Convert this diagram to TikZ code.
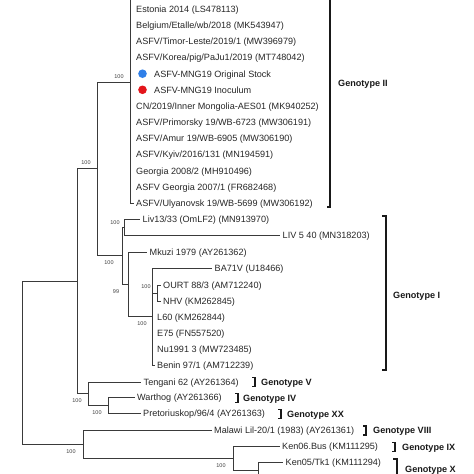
\documentclass[tikz,border=0pt]{standalone}
\usepackage{fontspec}
\setmainfont{Liberation Sans}
\definecolor{treegray}{HTML}{3A3A3A}
\definecolor{dotblue}{HTML}{2F7FE8}
\definecolor{dotred}{HTML}{E3151B}
\tikzset{
  branch/.style={draw=treegray, line width=0.8pt},
  leaf/.style={anchor=west, inner xsep=2.5pt, inner ysep=0pt, text height=6.6pt, text depth=0pt,
    font=\fontsize{9.1}{10}\selectfont, text=black!85},
  boot/.style={inner sep=0pt, font=\fontsize{5.5}{6}\selectfont, text=black!75},
  geno/.style={anchor=west, inner sep=0pt, text height=6.6pt, text depth=0pt,
    font=\fontsize{9.1}{10}\selectfont\bfseries, text=black!90},
  bracket/.style={draw=black!90, line width=1.2pt},
}
\begin{document}
\begin{tikzpicture}[x=1pt, y=-1pt]
    \useasboundingbox (0,0) rectangle (474,474);
    \clip (0,0) rectangle (474,474);

    % Internal nodes of the tree
    \coordinate (root) at (22,362.5);
    \coordinate (n77) at (77,281);
    \coordinate (n97) at (97,168);
    \coordinate (g2) at (130,82);
    \coordinate (g2top) at (130,-39);
    \coordinate (g1) at (122,255.5);
    \coordinate (nliv) at (124,227);
    \coordinate (nmk) at (128,284.5);
    \coordinate (nc) at (152,316.5);
    \coordinate (nou) at (157,293);
    \coordinate (nt) at (88,393.5);
    \coordinate (nw) at (108,405);
    \coordinate (nk) at (83,444);
    \coordinate (nkk) at (233,458);
    \coordinate (nk5) at (258,470);
    \coordinate (k5low) at (258,480);

    % Genotype II leaves
    \node[leaf] (ee) at (133.5,9) {Estonia 2014 (LS478113)};
    \node[leaf] (be) at (133.5,25.2) {Belgium/Etalle/wb/2018 (MK543947)};
    \node[leaf] (tl) at (133.5,41.3) {ASFV/Timor-Leste/2019/1 (MW396979)};
    \node[leaf] (ko) at (133.5,57.5) {ASFV/Korea/pig/PaJu1/2019 (MT748042)};
    \node[circle, fill=dotblue, inner sep=0pt, minimum size=8.6pt] (dotA) at (142.5,73.7) {};
    \node[leaf] (os) at (151.5,73.7) {ASFV-MNG19 Original Stock};
    \node[circle, fill=dotred, inner sep=0pt, minimum size=8.6pt] (dotB) at (142.5,89.8) {};
    \node[leaf] (ino) at (151.5,89.8) {ASFV-MNG19 Inoculum};
    \node[leaf] (cn) at (133.5,106) {CN/2019/Inner Mongolia-AES01 (MK940252)};
    \node[leaf] (pr) at (133.5,122.2) {ASFV/Primorsky 19/WB-6723 (MW306191)};
    \node[leaf] (am) at (133.5,138.4) {ASFV/Amur 19/WB-6905 (MW306190)};
    \node[leaf] (ky) at (133.5,154.5) {ASFV/Kyiv/2016/131 (MN194591)};
    \node[leaf] (g8) at (133.5,170.7) {Georgia 2008/2 (MH910496)};
    \node[leaf] (g7) at (133.5,186.9) {ASFV Georgia 2007/1 (FR682468)};
    \node[leaf] (ul) at (133.5,203) {ASFV/Ulyanovsk 19/WB-5699 (MW306192)};

    % Genotype I leaves
    \node[leaf] (liv13) at (140,219) {Liv13/33 (OmLF2) (MN913970)};
    \node[leaf] (liv5) at (280,235) {LIV 5 40 (MN318203)};
    \node[leaf] (mku) at (147,252) {Mkuzi 1979 (AY261362)};
    \node[leaf] (ba) at (212,268) {BA71V (U18466)};
    \node[leaf] (ou) at (160.5,285) {OURT 88/3 (AM712240)};
    \node[leaf] (nh) at (160.5,301) {NHV (KM262845)};
    \node[leaf] (l6) at (154.5,317) {L60 (KM262844)};
    \node[leaf] (e7) at (154.5,333) {E75 (FN557520)};
    \node[leaf] (nu) at (154.5,349) {Nu1991 3 (MW723485)};
    \node[leaf] (bn) at (154.5,365) {Benin 97/1 (AM712239)};

    % Other genotypes
    \node[leaf] (ten) at (141,382) {Tengani 62 (AY261364)};
    \node[leaf] (war) at (134.5,397.5) {Warthog (AY261366)};
    \node[leaf] (pre) at (140.5,413) {Pretoriuskop/96/4 (AY261363)};
    \node[leaf] (mal) at (211.5,430) {Malawi Lil-20/1 (1983) (AY261361)};
    \node[leaf] (k06) at (279.5,446) {Ken06.Bus (KM111295)};
    \node[leaf] (k05) at (283,462) {Ken05/Tk1 (KM111294)};

    % Branches
    \draw[branch] (root) |- (n77);
    \draw[branch] (root) |- (nk);
    \draw[branch] (n77) |- (n97);
    \draw[branch] (n77) |- (nt);
    \draw[branch] (n97) |- (g2);
    \draw[branch] (n97) |- (g1);
    \draw[branch] (g2) |- (g2top);
    \draw[branch] (g2) |- (ul.west);
    \draw[branch] (g1) |- (nliv);
    \draw[branch] (g1) |- (nmk);
    \draw[branch] (nliv) |- (liv13.west);
    \draw[branch] (nliv) |- (liv5.west);
    \draw[branch] (nmk) |- (mku.west);
    \draw[branch] (nmk) |- (nc);
    \draw[branch] (nc) |- (ba.west);
    \draw[branch] (nc) |- (nou);
    \draw[branch] (nc) |- (bn.west);
    \draw[branch] (nou) |- (ou.west);
    \draw[branch] (nou) |- (nh.west);
    \draw[branch] (nt) |- (ten.west);
    \draw[branch] (nt) |- (nw);
    \draw[branch] (nw) |- (war.west);
    \draw[branch] (nw) |- (pre.west);
    \draw[branch] (nk) |- (mal.west);
    \draw[branch] (nk) |- (nkk);
    \draw[branch] (nkk) |- (k06.west);
    \draw[branch] (nkk) |- (nk5);
    \draw[branch] (nk5) |- (k05.west);
    \draw[branch] (nk5) |- (k5low);

    % Bootstrap values
    \node[boot] (bg2) at (119,77) {100};
    \node[boot] (b97) at (86,163) {100};
    \node[boot] (bg1) at (109,263) {100};
    \node[boot] (bliv) at (115,223) {100};
    \node[boot] (bmk) at (116,292) {99};
    \node[boot] (bnc) at (142,324) {100};
    \node[boot] (bou) at (146,287) {100};
    \node[boot] (bnt) at (77,401) {100};
    \node[boot] (bnw) at (97,413) {100};
    \node[boot] (bnk) at (71,452) {100};
    \node[boot] (bnkk) at (221,466) {100};

    % Genotype brackets
    \draw[bracket] (330,-5) -- (330,207) -- (326.5,207);
    \node[geno] (gII) at (338,83) {Genotype II};
    \draw[bracket] (382,216) -- (386,216) -- (386,370) -- (382,370);
    \node[geno] (gI) at (393,295) {Genotype I};
    \draw[bracket] (252,377.5) -- (255,377.5) -- (255,386.5) -- (252,386.5);
    \node[geno] (gV) at (261,382) {Genotype V};
    \draw[bracket] (235,393.5) -- (238,393.5) -- (238,402.5) -- (235,402.5);
    \node[geno] (gIV) at (243,398) {Genotype IV};
    \draw[bracket] (278,409.5) -- (281,409.5) -- (281,418.5) -- (278,418.5);
    \node[geno] (gXX) at (287,414) {Genotype XX};
    \draw[bracket] (363,426) -- (366,426) -- (366,435) -- (363,435);
    \node[geno] (gVIII) at (373,430.5) {Genotype VIII};
    \draw[bracket] (392,442.5) -- (395,442.5) -- (395,451.5) -- (392,451.5);
    \node[geno] (gIX) at (402,447) {Genotype IX};
    \draw[bracket] (393,459) -- (397,459) -- (397,480);
    \node[geno] (gX) at (405,469) {Genotype X};
\end{tikzpicture}
\end{document}
